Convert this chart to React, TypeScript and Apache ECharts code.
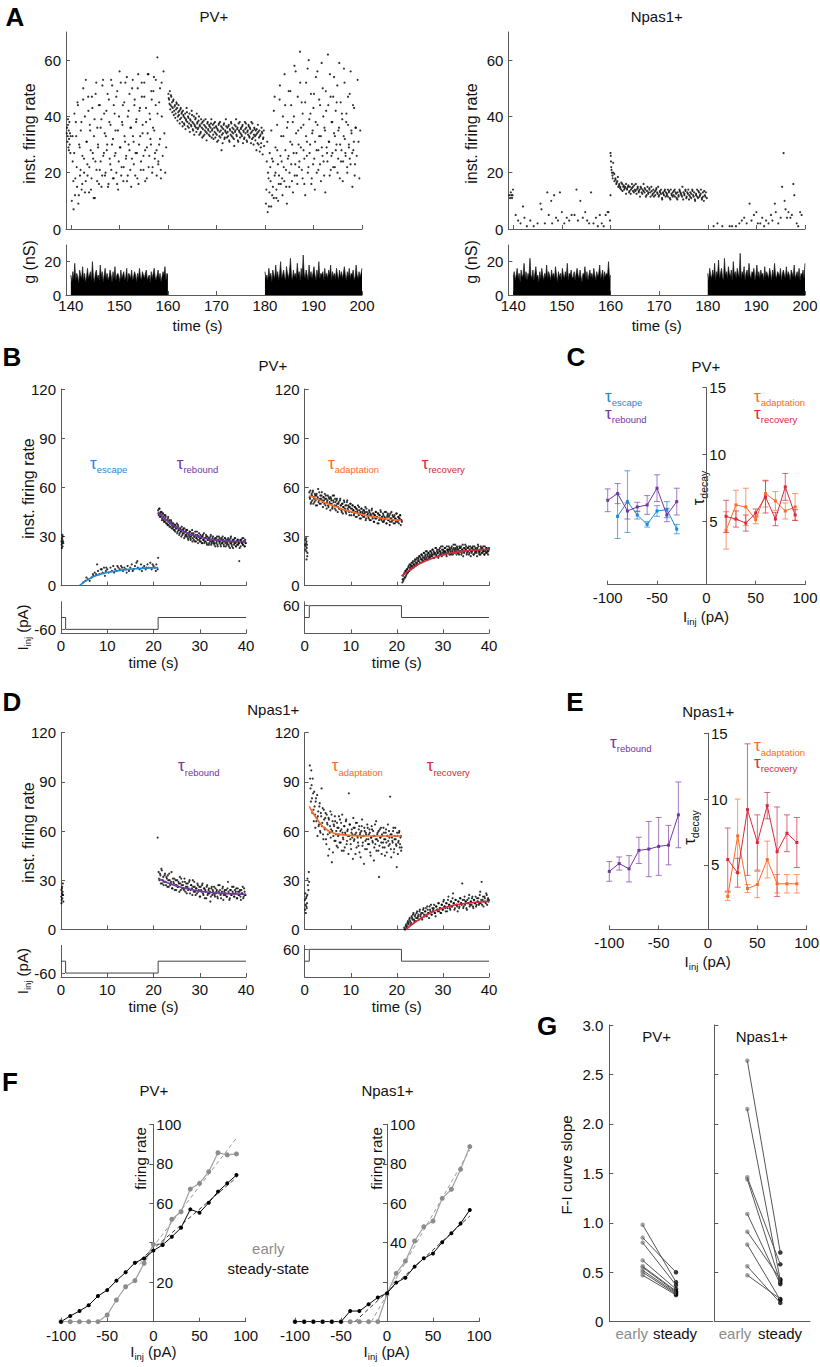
import React, { useEffect, useRef } from "react";
import * as echarts from "echarts";

const FONT = "'Liberation Sans', Arial, Helvetica, sans-serif";
const AXC = "#5a5a5a";
const TXT = "#111111";
const BLUE = "#1f88d4";
const PURPLE = "#7236a0";
const ORANGE = "#ff6a24";
const RED = "#d9283a";
const GRAY = "#8c8c8c";

// ---------------- helpers for parsing typed data ----------------
const nums = (s: string) => s.trim().split(/[\s,]+/).map(Number);
const pairs = (s: string) => s.split(",").map((p) => p.trim().split(/\s+/).map(Number));
const train = (t0: number, dt: number, s: string) => nums(s).map((y, i) => [+(t0 + i * dt).toFixed(3), y]);
const block = (t0: number, t1: number, s: string) => {
  const v = nums(s);
  return v.map((y, i) => [+(t0 + (i * (t1 - t0)) / (v.length - 1)).toFixed(3), y]);
};

// ---------------- Panel A ----------------
const A_TIME_TICKS = [140, 150, 160, 170, 180, 190, 200];
const A_RATE_TICKS = [0, 20, 40, 60];
const A_G_TICKS = [0, 20];
const A_PV_PRE = "139.15 34,139.22 36,139.3 31,139.36 33,139.42 37,139.5 29,139.56 35,139.62 32,139.7 38,139.76 30,139.82 34,139.9 27,139.95 33,139.4 39,139.6 28";
const A_PV_B1 = "10 24 7 41 18 33 15 44 12 29 21 38 16 46 25 13 53 31 19 42 22 35 14 47 27 11 39 24 52 17 30 44 21 36 15 51 26 41 19 33 28 48 16 38 23 53 30 18 44 26 35 20 49 14 40 29 52 22 37 17 45 31 25 54 19 42 28 36 15 50 33 23 46 27 39 18 55 30 43 21 52 34 26 47 17 38 29 55 22 41 32 49 20 36 54 25 44 28 61 23 30 50 18 40 26 56 34 20 29";
const A_PV_B1B = "33 17 27 12 38 22 45 9 30 19 35 14 26 50 20 40 17 31 23 47 13 37 28 18 43 25 33 11 48 21 36 29 16 44 24 39 19 53 27 34 20 42 30 15 46 25 37 21 51 32 18 41 27 47 16 35 24 56 29 19 38 44 22 33 52 26 17 40 30 48 21 36 25 53 31 44 19 38 27 50 16 42 33 24 47 37 21 52 28 43 18 34 55 26 39 30 46 22 49 35 27 53 19 41 24 45 32 21 52";
const A_PV_B2A = "48 46 49 44 47 45 43 46 42 44 41 45 43 40 44 42 39 43 41 38 42 40 37 41 39 43 38 40 36 41 39 37 42 38 35 40 37 39 36 41 38 36 40 37 34 39 36 38 33 37 35 39 36 34 38 35 37 33 36 39 35 37 32 36 38 34 36 31 35 37 33 38 35 28 36 34 37 32 35 39 34 36 33 37 31 35 38 33 36 34 32 37 35 39 33 36 31 35 38 34 36 33 37 35 32 38 34 36 31 35 37 33 36 34 38 32 35 30 36 33 35 28 34 37 30 35 33 29 36 34 32 35";
const A_PV_B2B = "46.5 44.5 42.5 47.5 43.5 41.5 45.5 40.5 43.5 39.5 42.5 44.5 38.5 41.5 40.5 37.5 42.5 39.5 41.5 36.5 40.5 37.5 39.5 35.5 38.5 41.5 36.5 39.5 37.5 34.5 38.5 36.5 40.5 35.5 37.5 33.5 36.5 39.5 34.5 37.5 35.5 38.5 33.5 36.5 34.5 37.5 32.5 35.5 38.5 33.5 36.5 34.5 31.5 37.5 35.5 33.5 36.5 34.5 37.5 32.5 35.5 33.5 37.5 34.5 32.5 36.5 33.5 35.5 31.5 37.5 34.5 32.5 36.5 33.5 30.5 35.5 37.5 32.5 34.5 36.5 32.5 34.5 36.5 31.5 35.5 33.5 37.5 34.5 32.5 35.5 29.5 34.5 36.5 33.5 35.5 31.5 37.5 34.5 32.5 35.5 33.5 36.5 30.5 34.5 32.5 35.5 37.5 31.5 34.5 33.5 36.5 32.5 35.5 30.5 34.5 37.5 32.5 33.5 35.5 31.5 33.5 35.5 30.5 34.5 32.5 27.5 33.5 30.5 34.5 26.5 32.5 29.5";
const A_PV_B3 = "9 24 6 18 13 22 8 25 15 11 47 20 14 28 10 19 51 16 24 12 33 17 44 21 9 38 26 15 49 23 30 13 40 19 56 27 16 35 22 63 29 45 18 37 25 12 52 31 20 60 27 41 16 34 23 48 14 38 28 56 21 33 44 17 29 50 24 36 13 42 27 62 31 19 47 26 38 22 54 33 28 45 20 35 59 30 24 41 17 33 52 27 38 22 47 30 25 56 34 15 28 43 23 36 26 53 31 18 35";
const A_PV_B3B = "14 31 20 8 27 17 35 12 24 42 19 29 11 37 23 16 46 26 33 18 40 22 55 28 15 36 25 49 20 31 44 17 38 27 58 23 34 19 47 30 24 52 36 21 41 28 16 45 33 26 57 22 39 30 48 18 35 43 25 31 54 20 37 28 46 23 33 59 26 40 19 35 49 29 24 44 31 55 21 38 27 47 34 22 42 30 51 25 36 18 45 28 39 24 57 32 26 41 20 37 29 48 23 35 27 44 31 19 36";
const A_NP_PRE = "139.2 12,139.35 11,139.5 13,139.6 12,139.75 11,139.85 12,139.95 14";
const A_NP_B1 = "140.5 5,141 3,141.5 2,142 8,142.3 4,142.8 1,143.5 3,144.2 1,145 2,145.6 9,145.8 7,146.5 2,147 13,147.3 5,147.8 10,148 2,148.4 12,148.8 4,149.2 3,149.6 13,150 6,150.5 2,151 4,151.5 3,152 5,152.6 5,153 14,153.3 3,153.8 10,154.3 4,154.8 6,155.2 3,155.6 2,156 13,156.5 2,157 4,157.4 1,157.8 5,158.2 2,158.6 1,159 5,159.4 6,159.6 6,159.9 3,160 12";
const A_NP_B2 = "27 21 19 20 17 18 16 17 15 16 15 14 16 15 14 15 16 14 15 13 15 14 16 15 13 14 16 14 15 13 14 15 13 14 16 13 14 12 15 13 14 13 15 12 14 13 12 14 13 15 12 13 14 11 13 12 14 13 12 14 13 11 14 12 13 12 14 13 11 13 12 14 13 12 15 13 12 14 11 13 14 12 13 11 14 12 13 10 12 14 11 13 12 14 11 13 10 12 13 11";
const A_NP_B2B = "23.5 19.5 17.5 16.5 18.5 15.5 14.5 16.5 13.5 15.5 14.5 12.5 14.5 15.5 13.5 12.5 14.5 13.5 15.5 13.5 12.5 14.5 13.5 11.5 14.5 12.5 13.5 14.5 11.5 13.5 12.5 14.5 11.5 13.5 12.5 11.5 13.5 14.5 12.5 11.5 13.5 12.5 10.5 12.5 13.5 11.5 12.5 11.5 13.5 10.5 12.5 11.5 13.5 11.5 12.5 10.5 11.5 13.5 12.5 11.5 10.5 12.5 13.5 11.5 12.5 10.5 11.5 12.5 13.5 11.5 10.5 12.5 11.5 13.5 11.5 12.5 10.5 11.5 13.5 11.5";
const A_NP_B2_EXTRA = "160.05 26,160.1 24,160.15 22,160.3 20,160.45 18";
const A_NP_B3 = "181.2 1,182 2,183 1,184.5 1,185 1,185.8 1,186.5 2,187 3,187.5 4,188 2,188.6 9,189 3,189.5 5,190 6,190.3 2,190.8 2,191.2 4,191.6 1,192 3,192.5 2,193 5,193.3 3,193.8 9,194 6,194.5 2,195 4,195.3 15,195.6 27,195.8 10,196 7,196.3 4,196.6 6,197 4,197.3 5,197.6 16,197.8 12,198.3 2,198.6 1,199 6,199.3 5";
const A_PV_G1 = "12 8 14 10 19 9 13 11 7 15 12 10 17 9 13 8 11 16 10 12 14 9 20 11 8 13 15 10 12 9 18 11 14 8 12 16 10 13 9 11 15 12 8 14 10 17 9 12 13 11 8 15 10 12 14 9 11 16 8 13 12 10 15 9 11 14 12 8 13 10 16 11 9 14 12 10 13 15 9 11 12 8 14 10 13 16 11 9 12 15 10 13 8 11 14 12 17 9 13 12";
const A_PV_G2 = "14 10 12 9 16 11 13 8 15 12 10 18 11 14 9 13 20 10 12 15 11 9 17 13 10 14 22 12 9 15 11 13 10 19 12 14 9 16 11 24 13 10 15 12 9 18 11 14 10 13 17 12 9 15 11 20 10 13 12 14 9 16 11 13 10 15 12 18 9 14 11 13 10 16 12 9 15 11 14 10 13 17 12 9 14 11 16 10 13 12 15 9 11 18 12 10 14 11 13 16";
const A_NP_G1 = "11 14 9 12 16 10 13 8 15 11 12 19 10 14 9 13 11 22 12 10 15 9 13 17 11 12 8 14 10 16 12 9 13 11 18 10 14 12 9 15 11 13 10 17 12 8 14 11 13 9 16 12 10 14 11 19 9 13 12 15 10 11 14 9 13 16 12 10 15 11 8 13 12 17 10 14 9 12 15 11 13 10 16 12 9 14 11 13 18 10 12 15 9 14 11 13 12 20 10 12";
const A_NP_G2 = "13 9 16 12 10 15 11 19 9 14 12 21 10 13 16 11 9 22 12 14 10 17 13 11 15 9 20 12 14 10 16 13 11 25 10 14 12 17 9 13 15 11 19 12 10 14 13 16 9 12 18 11 14 10 15 12 13 9 17 11 14 12 10 16 13 9 15 11 19 12 10 14 13 11 16 9 13 15 12 10 17 11 14 12 9 15 13 11 18 10 12 14 11 16 9 13 12 15 10 19";

// ---------------- Panels B / D ----------------
const BD_TIME_TICKS = [0, 10, 20, 30, 40];
const BD_RATE_TICKS = [0, 30, 60, 90, 120];
const STEP_NEG = [[0, 0], [1, 0], [1, -60], [21, -60], [21, 0], [40, 0]];
const STEP_POS = [[0, 0], [1, 0], [1, 60], [21, 60], [21, 0], [40, 0]];

const B_PV_BASE_L = "0.1 27,0.15 25,0.2 29,0.25 26,0.3 28,0.35 24,0.4 30,0.45 27,0.5 26,0.2 23,0.3 31";
const B_PV_ESCAPE = "4.8 2,5.3 3,5.8 4,6.2 3,6.6 5,7 6,7.3 8,7.6 7,8 9,8.3 7,8.6 10,9 8,9.3 11,9.7 9,10 10,10.3 8,10.7 11,11 9,11.3 12,11.7 10,12 9,12.4 11,12.7 10,13 12,13.4 9,13.7 11,14 10,14.4 12,14.7 9,15 11,15.3 13,15.7 10,16 12,16.3 14,16.6 11,17 10,17.3 13,17.7 11,18 12,18.3 10,18.7 13,19 11,19.3 14,19.6 10,20 12,20.3 11,20.6 13,20.9 10,21 17,7.8 13,9.5 6,16.5 15,8.8 10,12.2 12,14.2 8,17.5 9,19.8 13,5.5 5,6.9 7,9.8 11,11.5 8,13.2 11,15.5 9,18.5 11,20.5 9";
const B_PV_REBOUND = "46 43 47 44 42 45 41 44 40 43 39 42 40 38 41 37 40 38 36 39 37 35 38 36 34 37 35 38 33 36 34 32 35 33 36 31 34 32 35 30 33 31 34 29 32 30 33 28 31 34 29 32 30 27 31 29 33 28 30 32 27 31 29 26 30 28 32 27 29 31 26 30 28 25 29 27 31 26 28 30 27 25 29 28 26 30 24 28 27 29 25 28 26 30 27 24 29 26 28 25 27 29 24 28 26 30 25 27 23 28 26 29 24 27 25 28 26 15 27 24 28 26 25 29 27 24 26";
const B_PV_REBOUND2 = "44 47 42 45 43 40 44 42 39 41 43 38 40 37 42 39 36 38 40 35 38 36 34 37 33 36 35 32 37 34 31 35 33 30 34 32 35 29 33 31 34 30 32 28 31 33 29 30 32 27 31 28 30 33 27 29 31 26 30 28 29 27 30 26 31 28 26 29 27 30 25 28 29 26 28 30 25 27 29 26 28 26 24 29 27 25 28 30 26 27 24 29 26 28 25 27 29 24 27 26 28 25 27 23 29 26 24 28 27 25 29 26 24 27 28 25 26 23 28 27 26 29 25 27 24 28 26";
const B_PV_BASE_R = "0.1 25,0.15 22,0.2 28,0.25 24,0.3 26,0.35 21,0.4 27,0.45 23,0.5 25,0.55 18,0.6 20,0.3 29,0.4 16";
const B_PV_ADAPT = "57 53 50 56 52 58 54 51 55 49 56 53 59 52 50 55 53 57 51 54 52 56 49 53 51 55 48 53 50 54 52 47 55 51 49 53 46 52 50 48 51 47 53 49 45 50 48 52 46 49 44 51 47 49 45 48 50 43 47 49 46 44 48 42 47 45 49 43 46 44 41 47 45 42 46 44 48 41 45 43 42 46 40 44 43 47 41 44 39 43 45 41 42 44 38 43 41 45 40 42 44 39 42 41 45 38 43 40 42 37 44 41 39 43 40 42 38 41 44 40 39 42 41 43 37 40";
const B_PV_ADAPT2 = "54 58 51 55 57 50 53 56 52 55 49 54 51 57 53 50 55 52 48 54 50 53 55 47 52 49 54 51 46 53 50 48 52 55 47 51 49 53 45 50 47 52 49 46 50 44 48 51 47 45 49 52 46 48 43 50 47 45 49 46 43 48 45 47 42 46 44 48 41 45 47 43 44 46 42 45 40 47 43 44 41 45 43 40 46 42 44 39 43 41 45 42 38 44 40 43 46 41 42 39 43 40 45 41 38 42 44 40 43 39 41 45 40 42 38 43 41 39 44 40 42 38 41 43 40 39";
const B_PV_RECOV = "2 6 4 8 5 9 7 10 8 12 9 11 13 10 12 14 11 13 15 12 16 14 13 17 15 18 14 16 19 15 17 20 16 18 21 17 19 16 20 18 17 21 19 18 22 17 20 19 23 18 21 20 17 22 19 21 24 18 20 22 19 21 23 20 18 22 21 24 19 22 20 23 21 19 25 22 20 23 21 24 20 22 19 23 21 24 20 22 18 23 21 25 22 19 23 21 24 20 22 18 23 21 24 19 22 20 23 21 18 22 24 20 21 19 23 22 20 24 21 19 22 20 23 21 19 22";
const B_PV_RECOV2 = "4 3 7 5 9 6 10 8 11 9 13 10 12 14 11 15 13 12 16 14 13 17 15 16 18 14 17 19 16 18 15 20 17 19 16 21 18 20 17 19 21 18 20 22 19 21 17 20 23 19 22 20 18 21 23 20 19 22 24 21 20 23 21 19 24 22 20 22 23 21 19 24 22 20 23 21 25 22 19 23 22 20 24 21 23 19 22 25 21 20 23 22 24 20 21 23 19 22 24 21 20 23 22 19 24 21 22 20 23 25 21 19 22 24 20 23 21 22 19 24 21 23 20 22 21 23";
const B_FIT_ESCAPE = [[4, 0], [6, 4], [8, 6.5], [10, 8], [12, 9], [14, 9.8], [16, 10.3], [18, 10.7], [21, 11]];
const B_FIT_REBOUND = [[21, 45], [23, 39.5], [25, 35.5], [27, 32.5], [29, 30.5], [31, 29], [33, 28], [35, 27.5], [37, 27.1], [40, 26.8]];
const B_FIT_ADAPT = [[1, 55], [3, 52.5], [5, 50], [7, 48], [9, 46], [11, 44.5], [13, 43], [15, 42], [17, 41], [19, 40.3], [21, 39.8]];
const B_FIT_RECOV = [[21, 6], [23, 10], [25, 13.5], [27, 16], [29, 18], [31, 19.5], [33, 20.5], [35, 21.2], [37, 21.7], [40, 22.2]];

const D_NP_BASE_L = "0.05 20,0.1 24,0.15 18,0.2 22,0.25 26,0.3 19,0.35 23,0.4 28,0.45 21,0.5 17,0.2 25,0.35 21,0.1 16,20.9 56";
const D_NP_REBOUND = "35 30 33 37 28 32 29 34 27 31 33 26 30 28 35 25 29 31 27 24 30 26 28 32 24 27 29 25 31 23 28 26 24 29 22 27 25 30 23 26 21 25 28 23 26 20 24 27 22 25 19 23 26 21 24 22 17 25 21 23 26 20 22 24 19 23 27 21 22 25 18 23 21 24 20 29 22 19 24 21 23 26 20 22 25 19 23 21 24 18 22 26 20 23 21";
const D_NP_REBOUND2 = "31 34 28 36 30 27 33 29 32 26 30 34 27 29 25 31 28 24 30 27 26 29 23 28 31 25 27 24 29 26 22 28 25 30 24 27 21 26 29 23 25 22 27 24 20 26 23 28 21 25 24 19 27 22 25 23 20 26 24 22 21 25 23 20 27 22 24 19 23 26 21 24 22 20 25 23 18 24 21 26 22 20 24 23 19 25 21 23 20 24 22 19 25 21";
const D_NP_BASE_R = "0.05 18,0.1 12,0.15 22,0.2 15,0.25 10,0.3 19,0.35 14,0.4 20,0.5 16,0.6 31,0.7 27,0.8 24,0.9 35,0.95 29,0.45 13,0.55 21";
const D_NP_ADAPT = "100 86 97 80 92 73 84 70 78 66 82 69 63 75 60 71 86 65 58 73 62 68 55 70 64 45 67 59 72 61 41 66 57 63 69 54 60 65 50 62 58 67 53 61 70 56 48 63 59 66 52 60 57 83 64 55 49 61 58 68 54 62 46 59 65 56 51 63 58 44 60 67 53 57 62 49 59 55 64 52 58 61 47 56 63 54 60 42 57 52 66 55 59 48 32 61 56 53 58 50 62 55 45 59 53 57 64 51 56 81 49 58 54 60 47 55 62 52 38 57 53 59 50 56 48";
const D_NP_ADAPT2 = "92 78 88 71 83 66 75 62 80 68 57 72 64 77 59 69 63 74 55 67 61 71 52 65 58 68 49 63 56 70 60 47 64 54 66 58 51 62 57 69 53 60 65 48 59 55 63 50 58 67 54 61 46 57 64 52 59 56 43 62 55 58 65 50 57 53 61 47 59 56 63 51 57 40 60 54 58 49 62 55 52 59 45 56 61 53 57 50 64 55 48 58 54 60 51 56 62 46 57 53 59 50 55 61 47 57 54 60 52 58 44 56 53 62 49 57 55 51 59 46 54 60 52 57 50";
const D_NP_RECOV = "1 0 3 2 5 4 7 3 8 6 10 5 9 7 11 8 6 12 9 7 10 13 8 11 9 14 10 7 12 15 9 11 13 10 8 14 12 16 11 13 10 15 12 18 14 11 16 13 20 15 12 17 14 22 16 13 18 15 11 17 14 19 16 28 13 18 15 17 12 16 19 14 17 15 20 13 18 16 14 19 17 15 21 16 29 18 14 20 17 22 15 19 18";
const D_NP_RECOV2 = "0 2 1 4 3 6 5 4 7 9 6 8 5 10 7 9 11 8 10 6 12 9 11 13 8 12 10 14 11 9 13 12 15 10 14 12 11 16 13 10 15 12 17 14 13 16 11 18 15 13 17 14 19 16 12 18 15 14 17 13 19 16 15 18 14 20 17 13 18 16 21 15 17 19 14 18 16 20 15 17 19 16 23 18 15 20 17 19 16 21 18 17";
const D_FIT_REBOUND = [[21, 31], [23, 28.5], [25, 26.5], [27, 25], [29, 23.8], [31, 23], [33, 22.4], [35, 22], [37, 21.7], [40, 21.4]];
const D_FIT_ADAPT = [[1, 75], [2, 70], [3, 66], [4, 62.5], [5, 60.5], [6, 59], [8, 57.8], [10, 57.3], [14, 57], [21, 57]];
const D_FIT_RECOV = [[22, 0], [24, 4.5], [26, 8], [28, 11], [30, 13], [32, 14.5], [34, 15.5], [36, 16.2], [38, 16.7], [40, 17]];

// ---------------- Panels C / E (x, mean, sem) ----------------
const CE_X_TICKS = [-100, -50, 0, 50, 100];
const CE_Y_TICKS = [5, 10, 15];
const C_ESCAPE = [[-90, 5.4, 1.65], [-80, 6.5, 2.3], [-70, 5.5, 0.3], [-60, 4.8, 0.2], [-50, 5.8, 0.4], [-40, 5.9, 0.6], [-30, 4.45, 0.35]];
const C_REBOUND = [[-100, 6.6, 0.85], [-90, 7.1, 0.75], [-80, 5.8, 0.6], [-70, 6.1, 0.35], [-60, 6.25, 0.7], [-50, 7.5, 1.0], [-40, 5.5, 0.5], [-30, 6.5, 1.0]];
const C_ADAPT = [[20, 4.35, 1.4], [30, 6.25, 1.1], [40, 6.1, 1.4], [50, 5.15, 0.3], [60, 7.1, 1.0], [70, 6.55, 0.7], [80, 5.8, 0.6], [90, 6.1, 1.0]];
const C_RECOV = [[20, 5.4, 1.2], [30, 5.2, 0.6], [40, 4.9, 0.6], [50, 5.65, 0.3], [60, 6.85, 1.2], [70, 5.2, 0.5], [80, 7.6, 1.0], [90, 5.5, 0.4]];
const E_REBOUND = [[-100, 4.5, 0.75], [-90, 5.1, 0.5], [-80, 4.7, 1.0], [-70, 6.1, 1.0], [-60, 6.2, 2.1], [-50, 6.4, 2.2], [-40, 6.5, 1.5], [-30, 8.8, 2.5]];
const E_ADAPT = [[20, 2.6, 0.3], [30, 7.2, 2.8], [40, 3.2, 0.3], [50, 3.5, 1.0], [60, 5.4, 1.4], [70, 3.56, 0.7], [80, 3.56, 0.7], [90, 3.56, 0.7]];
const E_RECOV = [[20, 5.4, 2.4], [30, 4.4, 1.1], [40, 9.2, 5.0], [50, 6.7, 2.1], [60, 9.5, 1.0], [70, 6.0, 3.4], [80, 7.4, 1.4], [90, 6.7, 1.9]];

// ---------------- Panel F ----------------
const F_X_TICKS = [-100, -50, 0, 50, 100];
const F_Y_TICKS = [20, 40, 60, 80, 100];
const F_IINJ = [-100, -90, -80, -70, -60, -50, -40, -30, -20, -10, 0, 10, 20, 30, 40, 50, 60, 70, 80, 90];
const F_PV_EARLY = [0, 0, 0, 0, 0, 3.4, 11, 17.7, 20.8, 29.6, 39.2, 39.2, 51.9, 55.7, 67.2, 70.1, 76, 85.6, 84.5, 85];
const F_PV_STEADY = [0, 2.9, 5.4, 8.3, 13, 16, 20.8, 25, 29.9, 32, 36, 38.9, 43, 47.6, 56.9, 55.2, 60.3, 65.9, 70.1, 74.3];
const F_NP_EARLY = [0, 0, 0, 0, 0, 0, 0, 0, 0, 0, 14, 24.5, 30.7, 40.9, 48.1, 51, 62.5, 67.1, 77.2, 88.7];
const F_NP_STEADY = [0, 0, 0, 0, 0, 0, 5.4, 5.4, 8.8, 12.3, 14.4, 19.8, 22.3, 27.9, 32.1, 34.6, 40.2, 44.8, 49.8, 56.6];
const F_PV_FIT_EARLY = [[-15, 29], [90, 93]];
const F_PV_FIT_STEADY = [[-20, 29], [90, 73]];
const F_NP_FIT_EARLY = [[-17, 0], [90, 87]];
const F_NP_FIT_STEADY = [[-35, 0], [90, 53.5]];

// ---------------- Panel G ----------------
const G_Y_TICKS = [0, 0.5, 1, 1.5, 2, 2.5, 3];
const G_PV_EARLY = [0.98, 0.85, 0.8, 0.62, 0.56, 0.55, 0.52, 0.5, 0.47];
const G_PV_STEADY = [0.4, 0.5, 0.37, 0.33, 0.31, 0.3, 0.29, 0.28, 0.27];
const G_NP_EARLY = [2.64, 2.15, 1.46, 1.44, 1.09, 0.91, 0.78, 0.56, 0.47];
const G_NP_STEADY = [0.7, 0.42, 0.58, 0.4, 0.38, 0.43, 0.22, 0.19, 0.23];

// ---------------- text measuring ----------------
let measureCtx: any = null;
function tw(t: string, size: number) {
  if (!measureCtx) measureCtx = document.createElement("canvas").getContext("2d");
  measureCtx.font = `${size}px ${FONT}`;
  return measureCtx.measureText(t).width;
}

function buildOption() {
  const grid: any[] = [];
  const xAxis: any[] = [];
  const yAxis: any[] = [];
  const series: any[] = [];
  const graphic: any[] = [];

  const axisBase = (o: any) => {
    const label: any = o.labels
      ? { show: true, customValues: o.labels, inside: !!o.labelInside, margin: o.margin ?? 5, fontSize: o.fs ?? 14.5, color: TXT, fontFamily: FONT }
      : { show: false };
    if (o.fmt) label.formatter = o.fmt;
    const ax: any = {
      type: "value",
      min: o.min,
      max: o.max,
      axisLine: { show: true, onZero: false, lineStyle: { color: AXC, width: 1 } },
      axisTick: o.ticks
        ? { show: true, inside: !o.tickOut, length: o.tickLen ?? 4, customValues: o.ticks, lineStyle: { color: AXC, width: 1 } }
        : { show: false },
      axisLabel: label,
      splitLine: { show: false },
    };
    if (o.offset !== undefined) ax.offset = o.offset;
    return ax;
  };
  const addGrid = (l: number, t: number, w: number, h: number, xo: any, yo: any) => {
    grid.push({ left: l, top: t, width: w, height: h, outerBoundsMode: "none", containLabel: false });
    const i = grid.length - 1;
    xAxis.push({ gridIndex: i, ...axisBase(xo) });
    yAxis.push({ gridIndex: i, ...axisBase(yo) });
    return i;
  };
  const sc = (g: number, data: any[], size = 2.2, color = "#000") =>
    series.push({ type: "scatter", xAxisIndex: g, yAxisIndex: g, data, symbol: "circle", symbolSize: size, itemStyle: { color }, silent: true });
  const ln = (g: number, data: any[], color: string, width = 1, extra: any = {}) =>
    series.push({ type: "line", xAxisIndex: g, yAxisIndex: g, data, symbol: "none", lineStyle: { color, width }, silent: true, ...extra });
  const area = (g: number, data: any[]) =>
    series.push({ type: "line", xAxisIndex: g, yAxisIndex: g, data, symbol: "none", lineStyle: { color: "#1a1a1a", width: 0.7 }, areaStyle: { color: "#000", opacity: 1 }, silent: true });
  const err = (g: number, data: number[][], color: string, barColor: string) => {
    series.push({
      type: "custom",
      xAxisIndex: g,
      yAxisIndex: g,
      silent: true,
      data: data.map((d) => [d[0], d[1] - d[2], d[1] + d[2]]),
      encode: { x: 0, y: [1, 2] },
      renderItem: (params: any, api: any) => {
        const lo = api.coord([api.value(0), api.value(1)]);
        const hi = api.coord([api.value(0), api.value(2)]);
        const st = { stroke: barColor, lineWidth: 1 };
        const w = 3;
        return {
          type: "group",
          children: [
            { type: "line", shape: { x1: lo[0], y1: lo[1], x2: hi[0], y2: hi[1] }, style: st },
            { type: "line", shape: { x1: lo[0] - w, y1: lo[1], x2: lo[0] + w, y2: lo[1] }, style: st },
            { type: "line", shape: { x1: hi[0] - w, y1: hi[1], x2: hi[0] + w, y2: hi[1] }, style: st },
          ],
        };
      },
    });
    ln(g, data.map((d) => [d[0], d[1]]), color, 1, { symbol: "rect", symbolSize: 3, showSymbol: true, itemStyle: { color } });
  };

  const T = (x: number, y: number, text: string, o: any = {}) =>
    graphic.push({
      type: "text", x, y, rotation: o.rot || 0, silent: true,
      style: {
        text, fontSize: o.size || 15, fontFamily: FONT, fontWeight: o.weight || "normal", fill: o.color || TXT,
        align: o.align || "center", textAlign: o.align || "center", verticalAlign: "middle", textVerticalAlign: "middle",
      },
    });
  const comp = (x: number, y: number, pieces: any[], rot = 0, anchor = "center") => {
    const ws = pieces.map((p) => tw(p.t, p.s));
    const total = ws.reduce((a, b) => a + b, 0);
    let cx = anchor === "center" ? -total / 2 : 0;
    const children = pieces.map((p, i) => {
      const el = {
        type: "text", x: cx, y: p.dy || 0, silent: true,
        style: { text: p.t, fontSize: p.s, fontFamily: FONT, fill: p.c || TXT, align: "left", textAlign: "left", verticalAlign: "middle", textVerticalAlign: "middle" },
      };
      cx += ws[i];
      return el;
    });
    graphic.push({ type: "group", x, y, rotation: rot, children });
  };
  const tau = (x: number, y: number, sub: string, color: string) =>
    comp(x, y, [{ t: "τ", s: 17, c: color }, { t: sub, s: 9.5, c: color, dy: 6.5 }], 0, "left");
  const iinj = (x: number, y: number, rot = 0) =>
    comp(x, y, [{ t: "I", s: 15 }, { t: "inj", s: 9.5, dy: 5 }, { t: " (pA)", s: 15 }], rot, "center");

  // ================= Panel A =================
  const aRate = { min: 0, max: 70, ticks: A_RATE_TICKS, labels: A_RATE_TICKS, fs: 15 };
  const aTimeTop = { min: 139, max: 200, ticks: A_TIME_TICKS };
  const aTimeBot = { min: 139, max: 200, ticks: A_TIME_TICKS, labels: A_TIME_TICKS, margin: 3, fs: 15 };
  const aG = { min: 0, max: 30, ticks: A_G_TICKS, labels: A_G_TICKS, fs: 15 };
  const gA1 = addGrid(66, 32, 296, 197, aTimeTop, aRate);
  const gA2 = addGrid(66, 245, 296, 50, aTimeBot, aG);
  const gA3 = addGrid(508.4, 32, 296.6, 197, aTimeTop, aRate);
  const gA4 = addGrid(508.4, 245, 296.6, 50, aTimeBot, aG);
  sc(gA1, pairs(A_PV_PRE));
  sc(gA1, train(140.2, 0.18, A_PV_B1));
  sc(gA1, train(140.35, 0.17, A_PV_B1B));
  sc(gA1, train(160.1, 0.15, A_PV_B2A));
  sc(gA1, train(160.175, 0.15, A_PV_B2B));
  sc(gA1, train(180.2, 0.18, A_PV_B3));
  sc(gA1, train(180.3, 0.17, A_PV_B3B));
  area(gA2, block(140, 160, A_PV_G1));
  area(gA2, block(180, 200, A_PV_G2));
  sc(gA3, pairs(A_NP_PRE));
  sc(gA3, pairs(A_NP_B1));
  sc(gA3, train(160, 0.2, A_NP_B2));
  sc(gA3, train(160.55, 0.24, A_NP_B2B));
  sc(gA3, pairs(A_NP_B2_EXTRA));
  sc(gA3, pairs(A_NP_B3));
  area(gA4, block(140, 160, A_NP_G1));
  area(gA4, block(180, 200, A_NP_G2));

  // ================= Panels B and D =================
  const bdRate = { min: 0, max: 120, ticks: BD_RATE_TICKS, labels: BD_RATE_TICKS, fs: 15 };
  const bdTimeTop = { min: 0, max: 40, ticks: BD_TIME_TICKS };
  const bdTimeBot = { min: 0, max: 40, ticks: BD_TIME_TICKS, labels: BD_TIME_TICKS, margin: 5, fs: 15 };
  const curNeg = { min: -80, max: 80, ticks: [-60], labels: [-60], fs: 15 };
  const curPos = { min: -80, max: 80, ticks: [60], labels: [60], fs: 15 };
  const mk = (top: number) => ({
    l1: addGrid(61, top, 185, 196.7, bdTimeTop, bdRate),
    l2: addGrid(61, top + 212.7, 185, 31.6, bdTimeBot, curNeg),
    r1: addGrid(304.7, top, 184.3, 196.7, bdTimeTop, bdRate),
    r2: addGrid(304.7, top + 212.7, 184.3, 31.6, bdTimeBot, curPos),
  });
  const B = mk(389);
  sc(B.l1, pairs(B_PV_BASE_L));
  sc(B.l1, pairs(B_PV_ESCAPE));
  sc(B.l1, train(21.0, 0.15, B_PV_REBOUND));
  sc(B.l1, train(21.075, 0.15, B_PV_REBOUND2));
  ln(B.l1, B_FIT_ESCAPE, BLUE, 1.6, { smooth: true });
  ln(B.l1, B_FIT_REBOUND, PURPLE, 1.6, { smooth: true });
  ln(B.l2, STEP_NEG, "#444", 1);
  sc(B.r1, pairs(B_PV_BASE_R));
  sc(B.r1, train(1.0, 0.16, B_PV_ADAPT));
  sc(B.r1, train(1.08, 0.16, B_PV_ADAPT2));
  sc(B.r1, train(21.2, 0.15, B_PV_RECOV));
  sc(B.r1, train(21.25, 0.15, B_PV_RECOV2));
  ln(B.r1, B_FIT_ADAPT, ORANGE, 1.6, { smooth: true });
  ln(B.r1, B_FIT_RECOV, RED, 1.6, { smooth: true });
  ln(B.r2, STEP_POS, "#444", 1);

  const D = mk(732.7);
  sc(D.l1, pairs(D_NP_BASE_L));
  sc(D.l1, train(21.1, 0.2, D_NP_REBOUND));
  sc(D.l1, train(21.2, 0.2, D_NP_REBOUND2));
  ln(D.l1, D_FIT_REBOUND, PURPLE, 1.6, { smooth: true });
  ln(D.l2, STEP_NEG, "#444", 1);
  sc(D.r1, pairs(D_NP_BASE_R));
  sc(D.r1, train(1.1, 0.16, D_NP_ADAPT));
  sc(D.r1, train(1.18, 0.16, D_NP_ADAPT2));
  sc(D.r1, train(21.6, 0.2, D_NP_RECOV));
  sc(D.r1, train(21.7, 0.2, D_NP_RECOV2));
  ln(D.r1, D_FIT_ADAPT, ORANGE, 1.6, { smooth: true });
  ln(D.r1, D_FIT_RECOV, RED, 1.6, { smooth: true });
  ln(D.r2, STEP_POS, "#444", 1);

  // ================= Panels C and E =================
  const ceX = { min: -100, max: 100, ticks: CE_X_TICKS, labels: CE_X_TICKS, margin: 5.5, fs: 15 };
  const gC = addGrid(607.7, 387.7, 197.3, 197, ceX, { min: 0.3, max: 15, offset: -98.65, ticks: CE_Y_TICKS, tickOut: true, labels: CE_Y_TICKS, labelInside: true, margin: 3, fs: 15 });
  err(gC, C_ESCAPE, BLUE, "rgba(40,140,215,0.75)");
  err(gC, C_REBOUND, PURPLE, "rgba(125,70,165,0.7)");
  err(gC, C_ADAPT, ORANGE, "rgba(255,110,50,0.7)");
  err(gC, C_RECOV, RED, "rgba(205,40,60,0.7)");
  const gE = addGrid(609.3, 733.3, 197.4, 196, ceX, { min: 0.1, max: 15, offset: -98.7, ticks: CE_Y_TICKS, tickOut: true, labels: CE_Y_TICKS, labelInside: true, margin: 3, fs: 15 });
  err(gE, E_REBOUND, PURPLE, "rgba(125,70,165,0.7)");
  err(gE, E_ADAPT, ORANGE, "rgba(255,110,50,0.7)");
  err(gE, E_RECOV, RED, "rgba(205,40,60,0.7)");

  // ================= Panel F =================
  const fX = { min: -100, max: 100, ticks: F_X_TICKS, labels: F_X_TICKS, margin: 6, fs: 15 };
  const gF1 = addGrid(61, 1124.3, 184.7, 197.4, fX, { min: 0, max: 100, offset: -92.35, ticks: F_Y_TICKS, tickOut: true, labels: [20, 60, 80, 100], labelInside: true, margin: 3, fs: 15 });
  const gF2 = addGrid(295, 1124.3, 184, 197.4, fX, { min: 0, max: 100, offset: -92, ticks: F_Y_TICKS, tickOut: true, labels: [40, 60, 80, 100], labelInside: true, margin: 3, fs: 15 });
  const zip = (xs: number[], ys: number[]) => xs.map((x, i) => [x, ys[i]]);
  const fPanel = (g: number, early: number[], steady: number[], fe: number[][], fs: number[][]) => {
    ln(g, fe, "#9a9a9a", 1, { lineStyle: { color: "#9a9a9a", width: 1, type: [4, 3] } });
    ln(g, zip(F_IINJ, early), "#a0a0a0", 1.2, { symbol: "circle", symbolSize: 5, showSymbol: true, itemStyle: { color: GRAY } });
    ln(g, fs, "#333", 1, { lineStyle: { color: "#333", width: 1, type: [4, 3] } });
    ln(g, zip(F_IINJ, steady), "#000", 1, { symbol: "circle", symbolSize: 4, showSymbol: true, itemStyle: { color: "#000" } });
  };
  fPanel(gF1, F_PV_EARLY, F_PV_STEADY, F_PV_FIT_EARLY, F_PV_FIT_STEADY);
  fPanel(gF2, F_NP_EARLY, F_NP_STEADY, F_NP_FIT_EARLY, F_NP_FIT_STEADY);

  // ================= Panel G =================
  const gFmt = (v: number) => (v === 0 ? "0" : v.toFixed(1));
  const gG1 = addGrid(609.3, 1025, 103.4, 296.7, { min: 0, max: 3.1 }, { min: 0, max: 3, ticks: G_Y_TICKS, labels: G_Y_TICKS, fmt: gFmt, margin: 6, fs: 15 });
  const gG2 = addGrid(714.3, 1025, 95.7, 296.7, { min: 0, max: 2.9 }, { min: 0, max: 3, ticks: G_Y_TICKS });
  const gPanel = (g: number, early: number[], steady: number[]) => {
    early.forEach((e, i) => ln(g, [[1, e], [2, steady[i]]], "#555", 1));
    sc(g, early.map((e) => [1, e]), 4.5, GRAY);
    sc(g, steady.map((s) => [2, s]), 4.5, "#000");
  };
  gPanel(gG1, G_PV_EARLY, G_PV_STEADY);
  gPanel(gG2, G_NP_EARLY, G_NP_STEADY);

  // ================= texts =================
  const L = (x: number, y: number, t: string) => T(x, y, t, { size: 26, weight: "bold", color: "#000" });
  L(15, 16.5, "A");
  L(12, 357, "B");
  L(576, 357, "C");
  L(12, 702, "D");
  L(575, 702, "E");
  L(10, 1082, "F");
  L(547, 1026, "G");

  // titles
  T(214, 16.5, "PV+");
  T(656.7, 16.5, "Npas1+");
  T(273, 365.5, "PV+");
  T(706, 366.7, "PV+");
  T(273.3, 709, "Npas1+");
  T(708.3, 711.7, "Npas1+");
  T(154, 1090, "PV+");
  T(387.5, 1090, "Npas1+");
  T(656.7, 1036.7, "PV+");
  T(761.7, 1036.7, "Npas1+");

  // axis names
  const R = Math.PI / 2;
  T(29, 133.5, "inst. firing rate", { rot: R, size: 16 });
  T(471.7, 133.5, "inst. firing rate", { rot: R, size: 16 });
  T(29, 262, "g (nS)", { rot: R, size: 16 });
  T(471.7, 262, "g (nS)", { rot: R, size: 16 });
  T(197.5, 325, "time (s)");
  T(656.7, 325, "time (s)");
  T(28.3, 488.5, "inst. firing rate", { rot: R, size: 16 });
  T(28.3, 832.5, "inst. firing rate", { rot: R, size: 16 });
  T(153.5, 662, "time (s)");
  T(396.8, 662, "time (s)");
  T(153.5, 1006, "time (s)");
  T(396.8, 1006, "time (s)");
  iinj(22, 627.5, R);
  iinj(22, 971.2, R);
  iinj(706, 616.7);
  iinj(707.7, 961.7);
  iinj(153.3, 1351.7);
  iinj(386.7, 1351.7);
  comp(698, 488, [{ t: "τ", s: 17 }, { t: "decay", s: 10.5, dy: 6 }], R, "center");
  comp(689, 827.5, [{ t: "τ", s: 17 }, { t: "decay", s: 10.5, dy: 6 }], R, "center");
  T(140, 1158.5, "firing rate", { rot: R });
  T(376.7, 1158.5, "firing rate", { rot: R });
  T(566.7, 1165, "F-I curve slope", { rot: R });

  // legends / annotations
  T(268.3, 1248.3, "early", { color: GRAY });
  T(268.3, 1268.3, "steady-state");
  T(631.7, 1333, "early", { color: GRAY });
  T(675, 1333, "steady");
  T(735, 1333, "early", { color: GRAY });
  T(780, 1333, "steady");

  // tau labels
  tau(90, 463, "escape", BLUE);
  tau(176.7, 463, "rebound", PURPLE);
  tau(328, 463, "adaptation", ORANGE);
  tau(421.7, 463, "recovery", RED);
  tau(178, 765.7, "rebound", PURPLE);
  tau(331.7, 765.7, "adaptation", ORANGE);
  tau(426.7, 765.7, "recovery", RED);
  tau(605, 396, "escape", BLUE);
  tau(605, 413, "rebound", PURPLE);
  tau(754, 396, "adaptation", ORANGE);
  tau(754, 413, "recovery", RED);
  tau(610, 742, "rebound", PURPLE);
  tau(754, 745.7, "adaptation", ORANGE);
  tau(754, 762.3, "recovery", RED);

  return {
    animation: false,
    backgroundColor: "#ffffff",
    textStyle: { fontFamily: FONT },
    grid,
    xAxis,
    yAxis,
    series,
    graphic: { elements: graphic },
  };
}

export default function App() {
  const ref = useRef<HTMLDivElement>(null);
  useEffect(() => {
    document.body.style.margin = "0";
    const chart = echarts.init(ref.current as HTMLDivElement, null, { renderer: "svg" });
    chart.setOption(buildOption() as any);
    return () => chart.dispose();
  }, []);
  return <div ref={ref} style={{ width: 820, height: 1367, background: "#fff" }} />;
}
